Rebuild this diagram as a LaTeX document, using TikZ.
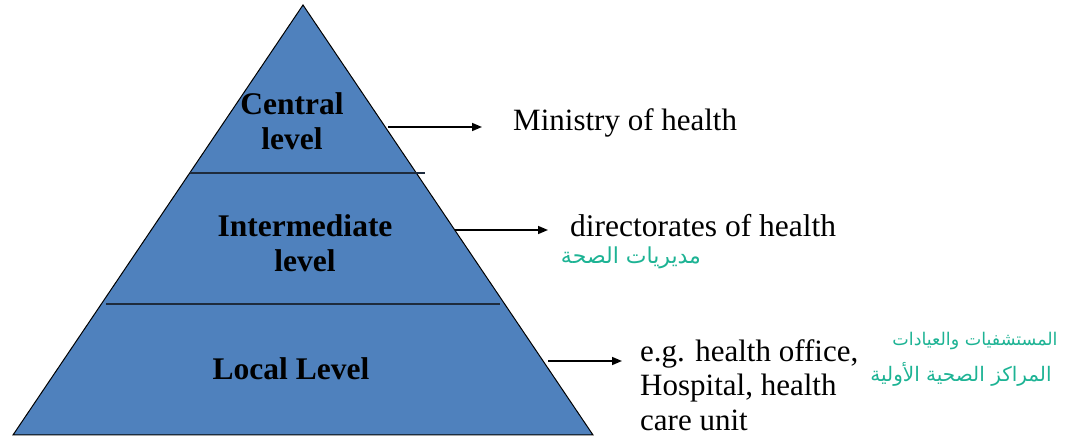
\documentclass[tikz,border=0pt]{standalone}
\usepackage{fontspec}
\setmainfont{Liberation Serif}
\newfontfamily\arabicfont[Script=Arabic]{DejaVu Sans}
\TeXXeTstate=1
\usetikzlibrary{arrows.meta}
\definecolor{pyrblue}{HTML}{4F81BD}
\definecolor{divline}{HTML}{1E2B3C}
\definecolor{inkgreen}{HTML}{1DB394}
\tikzset{
  pyramid/.style={draw=black, line width=1bp, fill=pyrblue, line join=miter},
  divider/.style={draw=divline, line width=1.6bp},
  levellabel/.style={font=\fontsize{31.5bp}{35bp}\selectfont\bfseries, align=center, inner sep=0pt},
  desc/.style={font=\fontsize{31bp}{34.5bp}\selectfont, align=left, inner sep=0pt},
  arr/.style={draw=black, line width=1.5bp, -{Triangle[length=10bp,width=8bp]}},
  note/.style={text=inkgreen, inner sep=0pt}
}
\begin{document}
\begin{tikzpicture}[x=1bp,y=-1bp]
\useasboundingbox (0,0) rectangle (1068,437);
% pyramid
\coordinate (apex) at (303,5);
\coordinate (bl) at (13,435);
\coordinate (br) at (593,435);
\draw[pyramid] (apex) -- (bl) -- (br) -- cycle;
% dividers
\coordinate (d1a) at (190,173);
\coordinate (d1b) at (425,173);
\coordinate (d2a) at (106,304);
\coordinate (d2b) at (500,304);
\draw[divider] (d1a) -- (d1b);
\draw[divider] (d2a) -- (d2b);
% level labels
\node[levellabel] (central) at (292,121) {Central\\level};
\node[levellabel] (inter) at (305,243) {Intermediate\\level};
\node[levellabel] (local) at (291,369) {Local Level};
% descriptions
\node[desc, anchor=base west] (ministry) at (513,131) {Ministry of health};
\node[desc, anchor=base west, font=\fontsize{31.5bp}{34.5bp}\selectfont] (direct) at (570,237) {directorates of health};
\node[desc, anchor=west] (eg) at (640,385) {e.g. health office,\\Hospital, health\\care unit};
% arrows
\coordinate (a1s) at (388,127);
\coordinate (a1e) at (482,127);
\coordinate (a2s) at (455,230);
\coordinate (a2e) at (548,230);
\coordinate (a3s) at (548,361);
\coordinate (a3e) at (622,361);
\draw[arr] (a1s) -- (a1e);
\draw[arr] (a2s) -- (a2e);
\draw[arr] (a3s) -- (a3e);
% handwritten notes
\node[note, font=\arabicfont\fontsize{22bp}{24bp}\selectfont] (n1) at (631,258) {\beginR مديريات الصحة\endR};
\node[note, font=\arabicfont\fontsize{17.5bp}{20bp}\selectfont] (n2) at (975,341) {\beginR المستشفيات والعيادات\endR};
\node[note, font=\arabicfont\fontsize{20bp}{22bp}\selectfont] (n3) at (961,374) {\beginR المراكز الصحية الأولية\endR};
\end{tikzpicture}
\end{document}
